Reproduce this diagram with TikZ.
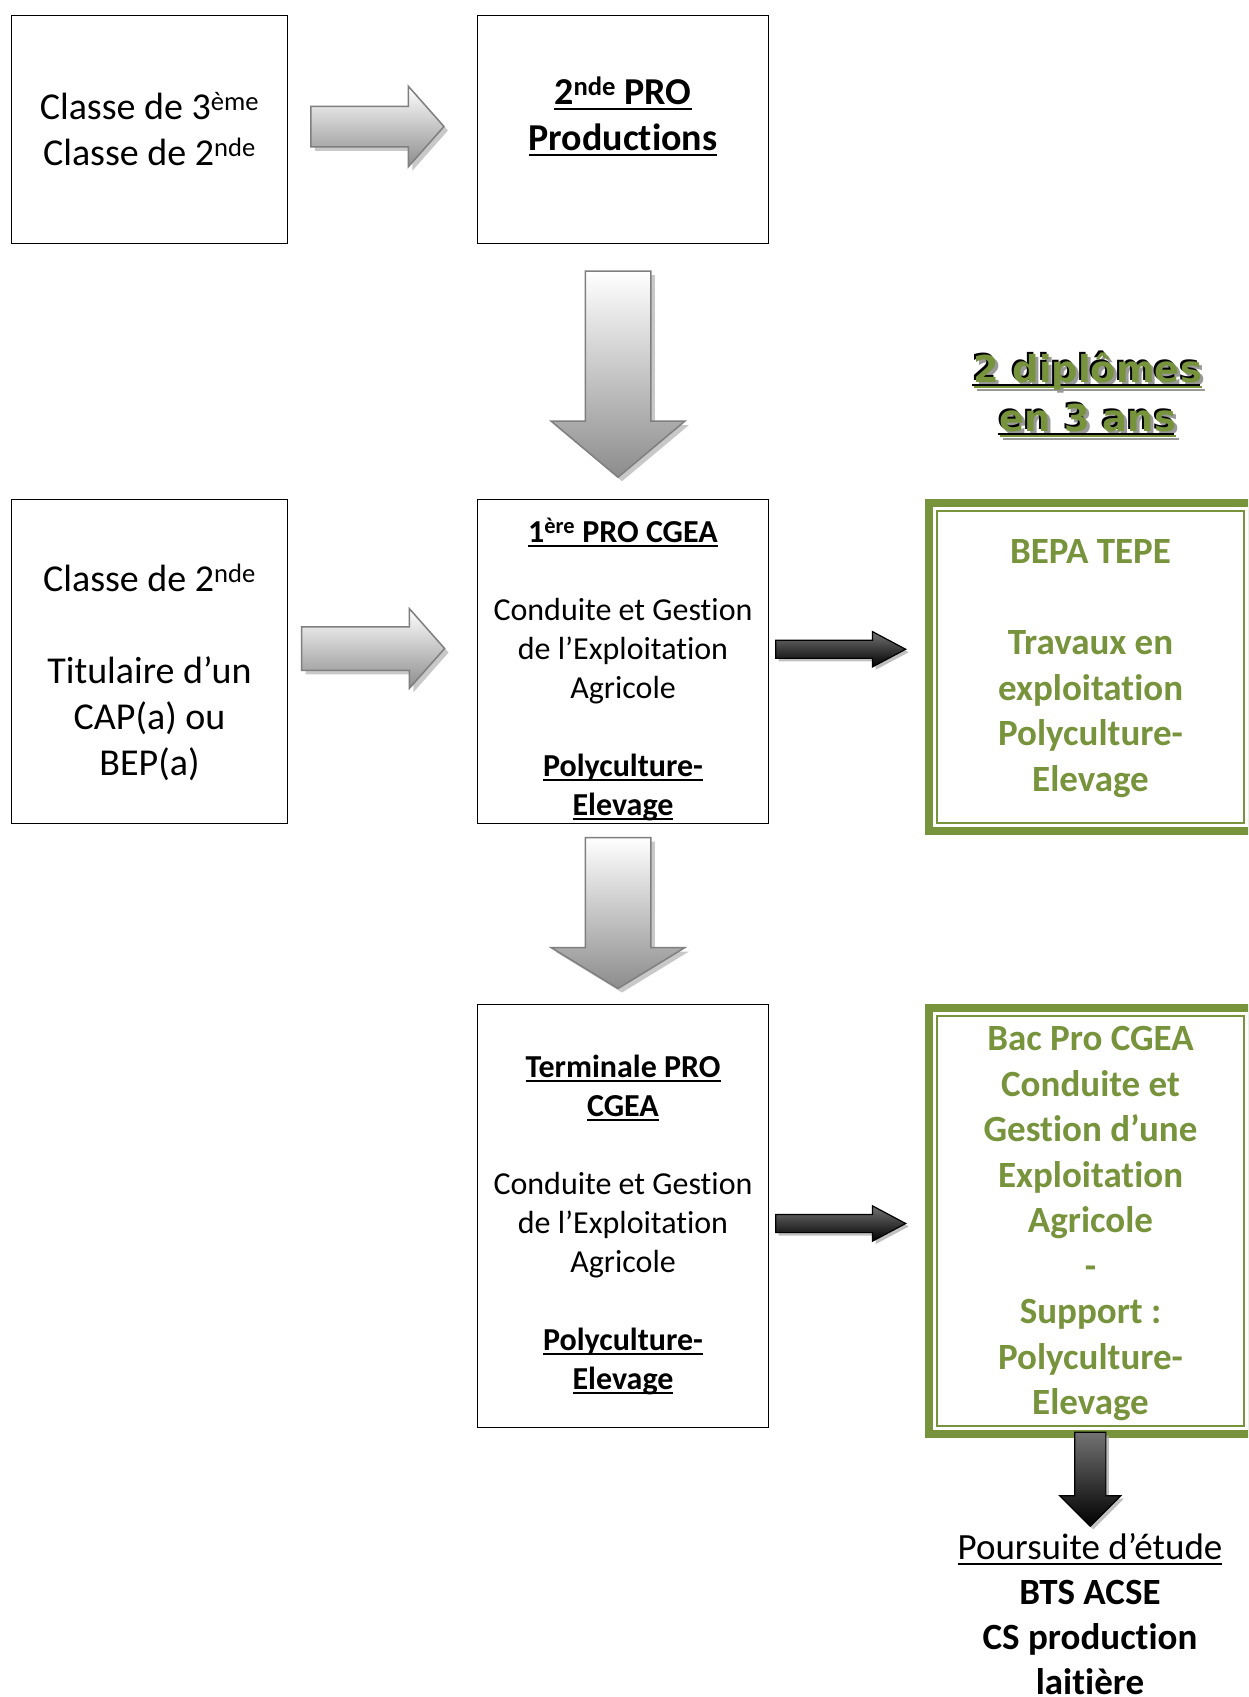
\documentclass[tikz,border=0pt]{standalone}
\usepackage{fontspec}
\setmainfont{Carlito}[Ligatures=NoCommon]
\newfontfamily\titrefont{DejaVu Sans}
\usetikzlibrary{shapes.arrows, shadows, calc}
\definecolor{vertolive}{HTML}{77933C}
\definecolor{grisfleche}{HTML}{7F7F7F}
\newcommand{\undr}[1]{\setbox0\hbox{#1}\leavevmode\rlap{\vrule width\wd0 height -0.09em depth 0.16em}\box0}
\tikzstyle{classbox} = [rectangle, draw=black, line width=1.5pt, align=center, inner sep=2pt, font=\fontsize{38}{46}\selectfont]
\tikzstyle{probox} = [rectangle, draw=black, line width=1.5pt, align=center, inner sep=2pt, font=\fontsize{32}{39}\selectfont]
\tikzstyle{diplome} = [rectangle, draw=vertolive, line width=8pt, align=center, inner sep=2pt, text=vertolive, font=\fontsize{37}{45.5}\selectfont\bfseries]
\tikzstyle{titre} = [align=center, inner sep=0pt, font=\titrefont\fontsize{37}{49}\selectfont\bfseries]
\tikzstyle{grayarrow} = [single arrow, draw=grisfleche, line width=1.5pt, top color=white, bottom color=black!45, drop shadow={shadow xshift=4pt, shadow yshift=-4pt, fill=black!30, opacity=.7}, inner xsep=0pt, text height=0pt, text depth=0pt, minimum width=0pt]
\tikzstyle{blackarrow} = [single arrow, draw=black, line width=1.2pt, top color=black!55, bottom color=black, drop shadow={shadow xshift=3pt, shadow yshift=-3pt, fill=black!35, opacity=.7}, inner xsep=0pt, text height=0pt, text depth=0pt, minimum width=0pt]

\begin{document}
\begin{tikzpicture}[x=1pt, y=-1pt]
  \useasboundingbox (0,0) rectangle (1248,1697);
  \fill[white] (0,0) rectangle (1248,1697);
  \clip (0,0) rectangle (1248,1697);

  % colonne gauche
  \node (troisieme) [classbox, minimum width=276pt, minimum height=228pt] at (149.5,129.5) {Classe de 3\textsuperscript{ème}\\Classe de 2\textsuperscript{nde}};
  \node (seconde) [classbox, minimum width=276pt, minimum height=324pt] at (149.5,661.5) {Classe de 2\textsuperscript{nde}\\~\\Titulaire d’un\\CAP(a) ou\\BEP(a)\\[-63pt]~};

  % colonne du milieu
  \node (secondepro) [classbox, minimum width=291pt, minimum height=228pt] at (623,129.5) {\bfseries\undr{2\textsuperscript{nde} PRO}\\\bfseries\undr{Productions}\\[-14pt]~};
  \node (premiere) [probox, minimum width=291pt, minimum height=324pt] at (623,661.5) {\bfseries\undr{1\textsuperscript{ère} PRO CGEA}\\~\\Conduite et Gestion\\de l’Exploitation\\Agricole\\~\\\bfseries\undr{Polyculture-}\\\bfseries\undr{Elevage}\\[-49pt]~};
  \node (terminale) [probox, minimum width=291pt, minimum height=423pt] at (623,1216) {\bfseries\undr{Terminale PRO}\\\bfseries\undr{CGEA}\\~\\Conduite et Gestion\\de l’Exploitation\\Agricole\\~\\\bfseries\undr{Polyculture-}\\\bfseries\undr{Elevage}\\[-51pt]~};

  % diplomes
  \node (diplomesombre) [titre, text=black!40] at (1091,398) {\undr{2 diplômes}\\\undr{en 3 ans}};
  \node (diplomesbord) [titre, text=black] at (1086,393) {\undr{2 diplômes}\\\undr{en 3 ans}};
  \node (diplomes) [titre, text=vertolive] at (1088,395) {\undr{2 diplômes}\\\undr{en 3 ans}};
  \node (bepa) [diplome, minimum width=323pt, minimum height=328pt] at (1090.5,667) {BEPA TEPE\\~\\Travaux en\\exploitation\\Polyculture-\\Elevage\\[-42.5pt]~};
  \node (bacpro) [diplome, minimum width=323pt, minimum height=426pt] at (1090.5,1221) {Bac Pro CGEA\\Conduite et\\Gestion d’une\\Exploitation\\Agricole\\-\\Support :\\Polyculture-\\Elevage\\[-44.5pt]~};
  \draw[vertolive, line width=1.5pt] ([shift={(12,12)}]bepa.north west) rectangle ([shift={(-12,-12)}]bepa.south east);
  \draw[vertolive, line width=1.5pt] ([shift={(12,12)}]bacpro.north west) rectangle ([shift={(-12,-12)}]bacpro.south east);
  \node (poursuite) [align=center, anchor=north, inner sep=0pt, font=\fontsize{37}{45}\selectfont] at (1090,1533) {\undr{Poursuite d’étude}\\\bfseries BTS ACSE\\\bfseries CS production\\\bfseries laitière};

  % fleches
  \node (f1) [grayarrow, minimum height=133pt, inner ysep=19.5pt, single arrow head extend=20pt, single arrow tip angle=97] at ($(troisieme.east)!.5!(secondepro.west)+(-14,-3)$) {};
  \node (f2) [grayarrow, shape border rotate=270, minimum height=206pt, inner xsep=32pt, inner ysep=0pt, single arrow head extend=34pt, single arrow tip angle=100] at ($(secondepro.south)!.5!(premiere.north)+(-5,-11)$) {};
  \node (f3) [grayarrow, minimum height=143pt, inner ysep=21pt, single arrow head extend=18pt, single arrow tip angle=97] at ($(seconde.east)!.5!(premiere.west)+(-19,-13)$) {};
  \node (f4) [grayarrow, shape border rotate=270, minimum height=151pt, inner xsep=32pt, inner ysep=0pt, single arrow head extend=34pt, single arrow tip angle=117] at ($(premiere.south)!.5!(terminale.north)+(-5,-11)$) {};
  \node (f5) [blackarrow, minimum height=130pt, inner ysep=8.5pt, single arrow head extend=8.5pt, single arrow tip angle=56] at ($(premiere.east)!.5!(bepa.west)+(-15,-15)$) {};
  \node (f6) [blackarrow, minimum height=130pt, inner ysep=8.5pt, single arrow head extend=8.5pt, single arrow tip angle=56] at ($(terminale.east)!.5!(bacpro.west)+(-15,5)$) {};
  \node (f7) [blackarrow, shape border rotate=270, minimum height=94pt, inner xsep=15pt, inner ysep=0pt, single arrow head extend=15pt, single arrow tip angle=90] at ($(bacpro.south)!.5!(poursuite.north)+(0,-14)$) {};
\end{tikzpicture}
\end{document}
